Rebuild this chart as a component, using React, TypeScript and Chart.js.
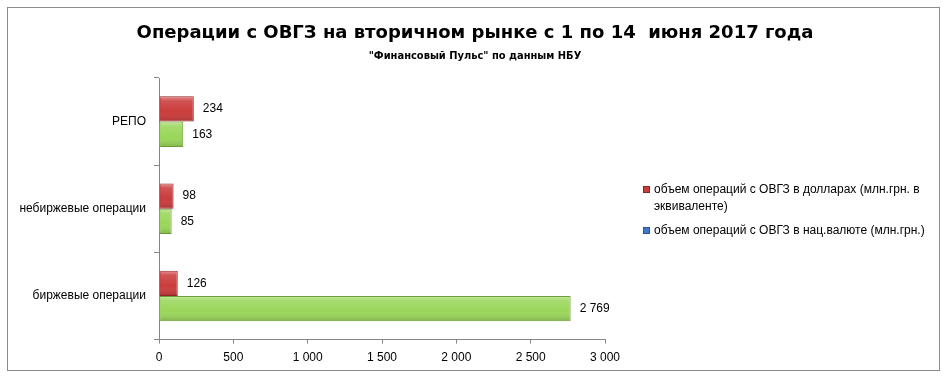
import React, { useEffect, useRef } from "react";
import { Chart, registerables } from "chart.js";

Chart.register(...registerables);

const chartTitle = "Операции с ОВГЗ на вторичном рынке с 1 по 14  июня 2017 года";
const chartSubtitle = "\"Финансовый Пульс\" по данным НБУ";
const categories = ["РЕПО", "небиржевые операции", "биржевые операции"];
const usdSeries = [234, 98, 126];
const uahSeries = [163, 85, 2769];
const usdLabel = ["объем операций с ОВГЗ в долларах (млн.грн. в", "эквиваленте)"];
const uahLabel = ["объем операций с ОВГЗ в нац.валюте (млн.грн.)"];
const xMin = 0;
const xMax = 3000;
const xStep = 500;

const FONT = "Liberation Sans, Arial, sans-serif";
const TITLE_FONT = "DejaVu Sans, sans-serif";
const SUB_FONT = "Liberation Sans Narrow, DejaVu Sans Condensed, sans-serif";
const RED = "#CB3C3C";
const RED_BORDER = "#8E2424";
const GREEN = "#9AD65A";
const GREEN_BORDER = "#6C9B38";
const BLUE = "#3E79C6";
const BLUE_BORDER = "#2A5590";

const fmt = (n: number) => String(n).replace(/\B(?=(\d{3})+(?!\d))/g, " ");

const framePlugin = {
  id: "frame",
  beforeDraw(chart: any) {
    const { ctx, width, height } = chart;
    ctx.save();
    ctx.fillStyle = "#ffffff";
    ctx.fillRect(0, 0, width, height);
    ctx.strokeStyle = "#8c8c8c";
    ctx.lineWidth = 1;
    ctx.strokeRect(7.5, 7.5, width - 18, height - 19);
    ctx.fillStyle = "#000";
    ctx.textAlign = "center";
    ctx.textBaseline = "middle";
    ctx.font = `bold 18px ${TITLE_FONT}`;
    ctx.fillText(chartTitle, width / 2, 33);
    ctx.font = `bold 11px ${SUB_FONT}`;
    ctx.fillText(chartSubtitle, width / 2, 56);
    ctx.restore();
  },
};

const bevelPlugin = {
  id: "bevel",
  afterDatasetsDraw(chart: any) {
    const { ctx } = chart;
    ctx.save();
    chart.data.datasets.forEach((_: any, di: number) => {
      const meta = chart.getDatasetMeta(di);
      meta.data.forEach((bar: any) => {
        const { x, y, base, height } = bar.getProps(["x", "y", "base", "height"], true);
        const top = y - height / 2;
        const g = ctx.createLinearGradient(0, top, 0, top + height);
        g.addColorStop(0, "rgba(255,255,255,0.45)");
        g.addColorStop(0.18, "rgba(255,255,255,0.12)");
        g.addColorStop(0.6, "rgba(255,255,255,0)");
        g.addColorStop(1, "rgba(0,0,0,0.18)");
        ctx.fillStyle = g;
        ctx.fillRect(base + 1, top + 1, x - base - 2, height - 2);
      });
    });
    ctx.restore();
  },
};

const valueLabelPlugin = {
  id: "valueLabels",
  afterDatasetsDraw(chart: any) {
    const { ctx } = chart;
    ctx.save();
    ctx.font = `12px ${FONT}`;
    ctx.fillStyle = "#000";
    ctx.textBaseline = "middle";
    ctx.textAlign = "left";
    chart.data.datasets.forEach((ds: any, di: number) => {
      const meta = chart.getDatasetMeta(di);
      meta.data.forEach((bar: any, i: number) => {
        ctx.fillText(fmt(ds.data[i]), bar.x + 9, bar.y);
      });
    });
    ctx.restore();
  },
};

const legendPlugin = {
  id: "sideLegend",
  afterDraw(chart: any) {
    const { ctx, chartArea } = chart;
    const x0 = chartArea.right + 38;
    const items = [
      { lines: usdLabel, fill: RED, border: RED_BORDER },
      { lines: uahLabel, fill: BLUE, border: BLUE_BORDER },
    ];
    const lineH = 17;
    let y = 190;
    ctx.save();
    ctx.font = `12px ${FONT}`;
    ctx.textBaseline = "middle";
    ctx.fillStyle = "#000";
    items.forEach((it) => {
      ctx.fillStyle = it.fill;
      ctx.fillRect(x0, y - 4, 7, 7);
      ctx.strokeStyle = it.border;
      ctx.lineWidth = 1;
      ctx.strokeRect(x0 + 0.5, y - 3.5, 6, 6);
      ctx.fillStyle = "#000";
      it.lines.forEach((ln, k) => {
        ctx.fillText(ln, x0 + 11, y + k * lineH);
      });
      y += it.lines.length * lineH + 7;
    });
    ctx.restore();
  },
};

export default function App() {
  const ref = useRef<HTMLCanvasElement | null>(null);
  useEffect(() => {
    if (!ref.current) return;
    const chart = new Chart(ref.current, {
      type: "bar",
      data: {
        labels: categories,
        datasets: [
          {
            label: usdLabel.join(" "),
            data: usdSeries,
            backgroundColor: RED,
            borderColor: RED_BORDER,
            borderWidth: 1,
            categoryPercentage: 0.58,
            barPercentage: 1,
          },
          {
            label: uahLabel.join(" "),
            data: uahSeries,
            backgroundColor: GREEN,
            borderColor: GREEN_BORDER,
            borderWidth: 1,
            categoryPercentage: 0.58,
            barPercentage: 1,
          },
        ],
      },
      options: {
        indexAxis: "y",
        animation: false,
        responsive: false,
        maintainAspectRatio: false,
        layout: { padding: { left: 0, right: 345, top: 78, bottom: 10 } },
        plugins: {
          legend: { display: false },
          tooltip: { enabled: false },
          title: { display: false },
        },
        scales: {
          x: {
            type: "linear",
            min: xMin,
            max: xMax,
            ticks: { stepSize: xStep, color: "#000", font: { family: FONT, size: 12 }, padding: 7, callback: (v: any) => fmt(Number(v)) },
            grid: { display: true, drawOnChartArea: false, tickLength: 4, color: "#868686" },
            border: { display: true, color: "#868686" },
          },
          y: {
            type: "category",
            ticks: { color: "#000", font: { family: FONT, size: 12 }, padding: 8 },
            grid: { display: true, drawOnChartArea: false, tickLength: 5, color: "#868686", offset: true },
            border: { display: true, color: "#868686" },
            afterFit: (scale: any) => {
              scale.width = 159;
            },
          },
        },
      },
      plugins: [framePlugin, bevelPlugin, valueLabelPlugin, legendPlugin],
    } as any);
    return () => chart.destroy();
  }, []);
  return (
    <div style={{ position: "fixed", left: 0, top: 0, width: 950, height: 382 }}>
      <canvas ref={ref} width={950} height={382} style={{ display: "block", width: 950, height: 382 }} />
    </div>
  );
}
